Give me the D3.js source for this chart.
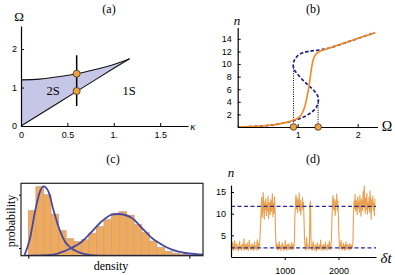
<!DOCTYPE html>
<html>
<head>
<meta charset="utf-8">
<script src="https://cdn.jsdelivr.net/npm/d3@7"></script>
<style>
body { margin: 0; background: #fff; }
svg { display: block; }
.tick text { font-family: "Liberation Sans", Arial, sans-serif; font-size: 9px; fill: #000; }
.tick line { stroke: #000; }
.domain { stroke: #000; stroke-width: 1.2; }
.lab { font-family: "Liberation Serif", "DejaVu Serif", serif; fill: #000; }
</style>
</head>
<body>
<svg width="395" height="275"></svg>
<script>
// ---- (a) phase diagram ----
var kappaVals  = [0, 0.2, 0.4, 0.6, 0.8, 1.0, 1.17];
var omegaUpper = [1.2, 1.22, 1.28, 1.36, 1.47, 1.6, 1.75];
var omegaLower = [0, 0.3, 0.6, 0.9, 1.2, 1.5, 1.75];
var kappaCut = 0.6;
var cutRange = [0.52, 1.84];
var cutPoints = [1.36, 0.91];
var aXTicks = [0, 0.5, 1, 1.5];
var aXLabels = ["0", "0.5", "1.", "1.5"];
var aYTicks = [0, 1, 2];

// ---- (b) n vs Omega ----
var blueOmega = [0, 0.3, 0.6, 0.93, 1.1, 1.25, 1.32, 1.345, 1.33, 1.27, 1.18, 1.09, 1.01, 0.95, 0.925, 0.935, 0.97, 1.04, 1.18, 1.47, 1.8, 2.29];
var blueN     = [0, 0.1, 0.35, 1.0, 1.6, 2.5, 3.3, 4.2, 5.0, 5.8, 6.6, 7.4, 8.25, 9.0, 9.7, 10.4, 11.0, 11.6, 12.0, 12.4, 13.4, 15.0];
var orangeOmega = [0, 0.3, 0.6, 0.93, 1.03, 1.08, 1.12, 1.155, 1.19, 1.215, 1.24, 1.29, 1.37, 1.47, 1.8, 2.29];
var orangeN     = [0, 0.1, 0.35, 1.1, 1.6, 2.3, 3.3, 4.8, 6.6, 8.3, 9.9, 11.4, 12.0, 12.35, 13.4, 15.0];
var foldOmega = [0.93, 1.34];
var foldN = [9.7, 4.2];
var bXTicks = [1, 2];
var bYTicks = [2, 4, 6, 8, 10, 12, 14];

// ---- (c) histogram ----
var histCounts = [45, 69, 61, 41.5, 25, 17, 14, 16, 22.5, 29, 36, 42.5, 44, 40.5, 31, 23, 14.5, 8.2, 4.2, 2.5, 1.5];
var fit1X = [-0.53, 0.23, 0.89, 1.55, 1.99, 2.65, 3.31, 3.97, 4.86, 5.6, 6.5, 7.5, 8.8, 11, 23.1];
var fit1Y = [0, 17.7, 44.4, 64.4, 69.4, 64.4, 46, 29.4, 14, 8, 4, 1.5, 0.4, 0, 0];
var fit2X = [-0.53, 2.9, 4.2, 5.5, 7.07, 8.4, 9.72, 11.05, 11.92, 13.7, 15.02, 16.34, 17.67, 18.99, 20.75, 22.5, 23.1];
var fit2Y = [0, 0.7, 3, 7, 14, 24, 34.4, 41, 41.7, 37.7, 27.7, 17.7, 11, 6, 2.7, 1.4, 1];

// ---- (d) time trace ----
var dt = 10;
var nTrace = [
  2.1,2.8,1.6,3.4,2.2,1.5,2.9,3.8,2.0,1.7, 2.5,3.1,1.8,2.4,1.4,2.7,3.6,2.2,1.9,2.6,
  1.5,3.0,2.3,1.8,4.2,2.0,1.6,2.9,2.4,1.7, 3.3,2.1,1.5,2.6,3.9,2.2,1.8,2.5,1.6,3.1,
  2.0,2.7,1.5,2.3,3.5,1.9,2.4,1.6,2.8,4.0, 2.2,1.7,3.2,2.5,4.6,
  7.5,10.2,13.8,9.1,11.6,14.9,10.4,8.7,12.8,11.0, 13.5,9.6,12.2,10.8,14.1,8.9,11.9,12.6,9.8,13.2,
  10.5,11.7,14.6,9.3,12.4,10.1,13.9,11.2,
  5.2,2.4,1.8,3.0,2.1,1.6,2.7,3.5,1.9,2.3, 1.5,2.8,2.0,3.3,1.7,2.5,2.2,1.6,3.8,2.0,
  2.6,1.5,2.9,2.3,1.8,3.1,2.4,1.7,2.0,2.7, 3.4,1.6,2.2,2.9,1.9,3.6,
  9.0,12.5,14.3,11.1,13.6,10.2,12.9,11.8,14.8,10.6, 13.1,9.7,12.2,11.4,13.7,10.9,12.6,8.4,
  3.9,2.2,1.6,2.8,4.5,1.9,2.4,1.7,3.0,2.3,
  12.1,12.8,
  3.2,2.0,1.5,2.7,3.6,1.8,2.3,1.6,2.9,2.1, 1.4,2.6,3.3,1.9,2.4,1.7,2.8,2.0,3.9,1.6,
  2.5,2.2,1.8,3.0,1.5,2.7,2.1,3.4,1.9,2.3, 1.6,2.9,2.2,1.8,3.7,2.4,1.7,2.6,4.1,
  8.8,12.7,14.2,10.9,13.4,11.5,9.6,13.0,12.1,14.6, 10.7,12.9,9.2,
  5.0,2.3,1.7,2.9,3.8,1.9,2.5,1.6,3.2,2.1, 2.7,1.5,2.4,3.5,1.8,2.2,2.9,1.7,2.6,2.0,
  3.1,1.6,2.4,2.8,1.9,2.3,3.0,
  9.5,12.8,11.2,14.5,10.6,13.1,12.0,9.8,13.9,11.4, 12.7,10.3,14.2,11.8,9.4,13.3,12.2,10.7,15.1,11.5,
  16.4,12.9,10.1,13.6,11.0,14.7,9.9,12.5,11.3,13.8, 10.4,15.3,12.0,8.7,13.2,11.6,14.1,10.8,12.4,9.6,
  13.5
];
var levels = [11.7, 2.1];
var dXTicks = [1000, 2000];
var dYTicks = [5, 10, 15];

var svg = d3.select("svg");
svg.append("rect").attr("width", 395).attr("height", 275).attr("fill", "#fff");

function label(x, y, txt, size, italic, anchor) {
  return svg.append("text").attr("class", "lab")
    .attr("x", x).attr("y", y)
    .attr("font-size", size)
    .attr("font-style", italic ? "italic" : "normal")
    .attr("text-anchor", anchor || "middle")
    .text(txt);
}

// ================= (a) =================
var xa = d3.scaleLinear().domain([0, 1.8]).range([21, 188]);
var ya = d3.scaleLinear().domain([0, 2.6]).range([126, 26]);

var regionA = d3.area()
  .x(function(d, i) { return xa(kappaVals[i]); })
  .y0(function(d, i) { return ya(omegaLower[i]); })
  .y1(function(d, i) { return ya(omegaUpper[i]); })
  .curve(d3.curveMonotoneX);
svg.append("path").attr("d", regionA(kappaVals))
  .attr("fill", "#c6c6e6").attr("stroke", "none");

var lineUp = d3.line()
  .x(function(d, i) { return xa(kappaVals[i]); })
  .y(function(d, i) { return ya(omegaUpper[i]); })
  .curve(d3.curveMonotoneX);
var lineLo = d3.line()
  .x(function(d, i) { return xa(kappaVals[i]); })
  .y(function(d, i) { return ya(omegaLower[i]); });
svg.append("path").attr("d", lineUp(kappaVals)).attr("fill", "none").attr("stroke", "#111").attr("stroke-width", 1.1);
svg.append("path").attr("d", lineLo(kappaVals)).attr("fill", "none").attr("stroke", "#111").attr("stroke-width", 1.1);

svg.append("line")
  .attr("x1", xa(kappaCut)).attr("x2", xa(kappaCut))
  .attr("y1", ya(cutRange[0])).attr("y2", ya(cutRange[1]))
  .attr("stroke", "#000").attr("stroke-width", 1.5);

svg.append("g").attr("transform", "translate(0,126)")
  .call(d3.axisBottom(xa).tickValues(aXTicks)
    .tickFormat(function(d, i) { return aXLabels[i]; })
    .tickSizeInner(-3).tickSizeOuter(0).tickPadding(6));
svg.append("g").attr("transform", "translate(21,0)")
  .call(d3.axisLeft(ya).tickValues(aYTicks).tickFormat(d3.format("d"))
    .tickSizeInner(-3).tickSizeOuter(0).tickPadding(4));

svg.selectAll("circle.a").data(cutPoints).enter().append("circle")
  .attr("cx", xa(kappaCut)).attr("cy", function(d) { return ya(d); })
  .attr("r", 3.5).attr("fill", "#f2a23a").attr("stroke", "#333").attr("stroke-width", 0.8);

label(109, 12.5, "(a)", 12);
label(19, 21, "\u03A9", 13);
label(193, 130, "\u03BA", 11, true);
label(53, 95, "2S", 12.5);
label(129, 95, "1S", 12.5);

// ================= (b) =================
var xb = d3.scaleLinear().domain([0, 2.33]).range([237.7, 377.5]);
var yb = d3.scaleLinear().domain([0, 15.8]).range([127, 27.5]);

svg.selectAll("line.fold").data(foldOmega).enter().append("line")
  .attr("x1", function(d) { return xb(d); }).attr("x2", function(d) { return xb(d); })
  .attr("y1", yb(0)).attr("y2", function(d, i) { return yb(foldN[i]); })
  .attr("stroke", "#000").attr("stroke-width", 1).attr("stroke-dasharray", "1,1.3");

var blueLine = d3.line()
  .x(function(d, i) { return xb(blueOmega[i]); })
  .y(function(d, i) { return yb(blueN[i]); })
  .curve(d3.curveCatmullRom);
svg.append("path").attr("d", blueLine(blueOmega))
  .attr("fill", "none").attr("stroke", "#1c1c8e").attr("stroke-width", 1.7)
  .attr("stroke-dasharray", "3.5,2");

var orangeLine = d3.line()
  .x(function(d, i) { return xb(orangeOmega[i]); })
  .y(function(d, i) { return yb(orangeN[i]); })
  .curve(d3.curveMonotoneX);
svg.append("path").attr("d", orangeLine(orangeOmega))
  .attr("fill", "none").attr("stroke", "#f28a22").attr("stroke-width", 1.6);

svg.append("g").attr("transform", "translate(0,127)")
  .call(d3.axisBottom(xb).tickValues(bXTicks).tickFormat(d3.format("d"))
    .tickSizeInner(-3).tickSizeOuter(0).tickPadding(5));
svg.append("g").attr("transform", "translate(237.7,0)")
  .call(d3.axisLeft(yb).tickValues(bYTicks).tickFormat(d3.format("d"))
    .tickSizeInner(-3).tickSizeOuter(0).tickPadding(6));

svg.selectAll("circle.b").data(foldOmega).enter().append("circle")
  .attr("cx", function(d) { return xb(d); }).attr("cy", yb(0))
  .attr("r", 3.3).attr("fill", "#f2a23a").attr("stroke", "#333").attr("stroke-width", 0.8);

label(313, 12.5, "(b)", 12);
label(237, 25, "n", 13, true);
label(387, 131, "\u03A9", 14);

// ================= (c) =================
var xc = d3.scaleLinear().domain([-0.97, 23.1]).range([21, 203]);
var yc = d3.scaleLinear().domain([0, 72.4]).range([255.7, 183.3]);

svg.append("clipPath").attr("id", "clipc").append("rect")
  .attr("x", 21).attr("y", 183.3).attr("width", 182).attr("height", 72.4);

svg.selectAll("rect.bar").data(histCounts).enter().append("rect")
  .attr("x", function(d, i) { return xc(i); })
  .attr("width", function(d, i) { return xc(i + 1) - xc(i); })
  .attr("y", function(d) { return yc(d); })
  .attr("height", function(d) { return yc(0) - yc(d); })
  .attr("fill", "#f0aa5c").attr("stroke", "#c8a385").attr("stroke-width", 0.8);

var fit1 = d3.line()
  .x(function(d, i) { return xc(fit1X[i]); })
  .y(function(d, i) { return yc(fit1Y[i]); })
  .curve(d3.curveMonotoneX);
var fit2 = d3.line()
  .x(function(d, i) { return xc(fit2X[i]); })
  .y(function(d, i) { return yc(fit2Y[i]); })
  .curve(d3.curveMonotoneX);
svg.append("path").attr("d", fit1(fit1X)).attr("clip-path", "url(#clipc)")
  .attr("fill", "none").attr("stroke", "#4848a0").attr("stroke-width", 1.8);
svg.append("path").attr("d", fit2(fit2X)).attr("clip-path", "url(#clipc)")
  .attr("fill", "none").attr("stroke", "#4848a0").attr("stroke-width", 1.8);

svg.append("rect").attr("x", 21).attr("y", 183.3).attr("width", 182).attr("height", 72.4)
  .attr("fill", "none").attr("stroke", "#222").attr("stroke-width", 1.2);

svg.append("g").attr("transform", "translate(0,255.7)")
  .call(d3.axisBottom(xc).tickValues([0, 21.3]).tickFormat("").tickSizeInner(3).tickSizeOuter(0))
  .select(".domain").remove();
svg.append("g").attr("transform", "translate(21,0)")
  .call(d3.axisLeft(yc).tickValues([7.7, 61]).tickFormat("").tickSizeInner(2).tickSizeOuter(0))
  .select(".domain").remove();

label(113, 163, "(c)", 12);
label(111, 270, "density", 12);
label(0, 0, "probability", 12).attr("transform", "translate(15,221) rotate(-90)");

// ================= (d) =================
var xd = d3.scaleLinear().domain([0, 2700]).range([231, 376]);
var yd = d3.scaleLinear().domain([0, 16.6]).range([257, 185.1]);

var trace = d3.line()
  .x(function(d, i) { return xd(i * dt); })
  .y(function(d) { return yd(d); });
svg.append("path").attr("d", trace(nTrace))
  .attr("fill", "none").attr("stroke", "#e9a04f").attr("stroke-width", 1.1)
  .attr("stroke-linejoin", "round");

svg.selectAll("line.lev").data(levels).enter().append("line")
  .attr("x1", xd(0)).attr("x2", 376)
  .attr("y1", function(d) { return yd(d); }).attr("y2", function(d) { return yd(d); })
  .attr("stroke", "#2a2a9a").attr("stroke-width", 1.2).attr("stroke-dasharray", "4,2.5");

svg.append("g").attr("transform", "translate(0,257)")
  .call(d3.axisBottom(xd).tickValues(dXTicks).tickFormat(d3.format("d"))
    .tickSizeInner(3).tickSizeOuter(0).tickPadding(8));
svg.append("g").attr("transform", "translate(231,0)")
  .call(d3.axisLeft(yd).tickValues(dYTicks).tickFormat(d3.format("d"))
    .tickSizeInner(-3).tickSizeOuter(0).tickPadding(5));

label(313, 163, "(d)", 12);
label(231, 177, "n", 13, true);
label(386, 263, "\u03B4t", 15, true);
</script>
</body>
</html>
